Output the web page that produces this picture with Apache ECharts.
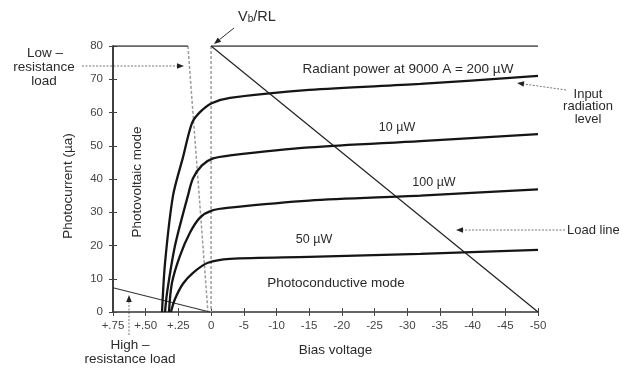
<!DOCTYPE html>
<html>
<head>
<meta charset="utf-8">
<script src="https://cdn.jsdelivr.net/npm/echarts@6/dist/echarts.min.js"></script>
<style>
  html, body { margin: 0; padding: 0; background: #fff; }
  #chart { width: 619px; height: 370px; }
</style>
</head>
<body>
<div id="chart"></div>
<script>
  // tick labels of the broken bias axis (13 equal steps)
  const biasTicks = ['+.75', '+.50', '+.25', '0', '-5', '-10', '-15', '-20', '-25', '-30', '-35', '-40', '-45', '-50']

  // curves: bias voltage (V) and photocurrent (uA)
  const volts200 = [0.375, 0.352, 0.291, 0.215, 0.146, 0.085, -0.1, -2.9, -15, -32, -50]
  const amps200 = [0, 14.8, 35, 46.5, 56.8, 60.1, 62.8, 64.4, 66.8, 68.6, 71]
  const volts10 = [0.352, 0.337, 0.276, 0.177, 0.138, 0.07, -0.3, -2.9, -15, -32, -50]
  const amps10 = [0, 5.7, 19.9, 35, 40.2, 44.1, 46.2, 47.1, 49.5, 51.4, 53.5]
  const volts100 = [0.322, 0.299, 0.238, 0.161, 0.085, -0.1, -2.9, -15, -32, -50]
  const amps100 = [0, 8.8, 16.9, 23.9, 28.4, 30.5, 31.4, 33.5, 35, 36.9]
  const volts50 = [0.307, 0.276, 0.215, 0.138, 0.024, -2.9, -15, -32, -50]
  const amps50 = [0, 3.9, 8.5, 11.8, 14.8, 16, 16.6, 17.5, 18.7]

  // straight lines
  const loadLine = [[0, 80], [-50, 0]]
  const lowResLoad = [[0.177, 80], [0.024, 0]]
  const highResLoad = [[0.75, 7.3], [0.01, 0]]
  const zeroBias = [[0, 80], [0, 0]]
  const topLeft = [[0.75, 80], [0.177, 80]]
  const topRight = [[0, 80], [-50, 80]]

  // +.75..0 takes 3 steps of .25 V, 0..-50 takes 10 steps of 5 V
  function toPos(v) {
    return v >= 0 ? (0.75 - v) / 0.25 : 3 + (-v) / 5
  }
  function pts(vs, is) {
    return vs.map((v, i) => [toPos(v), is[i]])
  }
  function seg(p) {
    return p.map(d => [toPos(d[0]), d[1]])
  }

  const font = '"Liberation Sans", Arial, sans-serif'
  const ink = '#2a2a2a'

  function curve(name, data) {
    return {
      name: name, type: 'line', data: data, smooth: 0.3,
      showSymbol: false, silent: true,
      lineStyle: { color: '#151515', width: 2.3 }
    }
  }
  function straight(data, color, width, dash) {
    return {
      type: 'line', data: seg(data), showSymbol: false, silent: true,
      lineStyle: { color: color, width: width, type: dash || 'solid' }
    }
  }

  function txt(x, y, text, size, extra) {
    return Object.assign({
      type: 'text', x: x, y: y,
      style: { text: text, font: (size || 13.5) + 'px ' + font, fill: ink, align: 'center', verticalAlign: 'middle' }
    }, extra || {})
  }
  function arrow(x1, y1, x2, y2, dashed) {
    const a = Math.atan2(y2 - y1, x2 - x1)
    const L = 7, W = 2.8
    const bx = x2 - L * Math.cos(a), by = y2 - L * Math.sin(a)
    return [
      { type: 'line', shape: { x1: x1, y1: y1, x2: bx, y2: by },
        style: { stroke: dashed ? '#777' : '#333', lineWidth: 1, lineDash: dashed ? [2, 1.5] : null } },
      { type: 'polygon',
        shape: { points: [[x2, y2], [bx + W * Math.sin(a), by - W * Math.cos(a)], [bx - W * Math.sin(a), by + W * Math.cos(a)]] },
        style: { fill: '#222' } }
    ]
  }

  const axisBase = {
    type: 'value', min: 0, max: 13, interval: 1,
    splitLine: { show: false },
    axisTick: { inside: true, length: 4, lineStyle: { color: '#444' } }
  }

  const option = {
    animation: false,
    backgroundColor: '#fff',
    grid: { left: 113, right: 81, top: 46, bottom: 58 },
    xAxis: [
      Object.assign({}, axisBase, {
        position: 'bottom',
        axisLine: { lineStyle: { color: '#333', width: 1.5 } },
        axisLabel: { formatter: v => biasTicks[Math.round(v)], color: '#444', fontFamily: font, fontSize: 11.5, margin: 8 },
        name: 'Bias voltage', nameLocation: 'middle', nameGap: 31,
        nameTextStyle: { color: ink, fontFamily: font, fontSize: 13.5, padding: [0, 0, 0, 20] }
      }),
      Object.assign({}, axisBase, {
        position: 'top',
        axisLine: { show: false },
        axisLabel: { show: false }
      })
    ],
    yAxis: [
      {
        type: 'value', min: 0, max: 80, interval: 10, position: 'left',
        splitLine: { show: false },
        axisLine: { show: true, lineStyle: { color: '#333', width: 1.5 } },
        axisTick: { show: true, inside: true, length: 4, lineStyle: { color: '#444' } },
        axisLabel: { color: '#444', fontFamily: font, fontSize: 11.5, margin: 10 },
        name: 'Photocurrent (µa)', nameLocation: 'middle', nameGap: 38,
        nameTextStyle: { color: ink, fontFamily: font, fontSize: 13.5, padding: [0, 0, 0, -14] }
      },
      {
        type: 'value', min: 0, max: 80, interval: 10, position: 'right',
        splitLine: { show: false },
        axisLine: { show: true, lineStyle: { color: '#333', width: 1.5 } },
        axisTick: { show: true, inside: true, length: 4, lineStyle: { color: '#444' } },
        axisLabel: { show: false }
      }
    ],
    series: [
      straight(zeroBias, '#9a9a9a', 1.5, [3, 2]),
      straight(lowResLoad, '#9a9a9a', 1.5, [3, 2]),
      straight(topLeft, '#333', 1.5),
      straight(topRight, '#333', 1.5),
      straight(loadLine, '#222', 1.2),
      straight(highResLoad, '#333', 1.1),
      curve('200 µW', pts(volts200, amps200)),
      curve('10 µW', pts(volts10, amps10)),
      curve('100 µW', pts(volts100, amps100)),
      curve('50 µW', pts(volts50, amps50))
    ],
    graphic: [
      // Vb/RL
      { type: 'text', x: 257, y: 17,
        style: { text: '{a|V}{b|b}{a|/RL}', align: 'center', verticalAlign: 'middle',
          rich: { a: { font: '14.5px ' + font, fill: ink }, b: { font: '10px ' + font, fill: ink, padding: [5, 0, 0, 0] } } } },
      ...arrow(234, 28, 214, 44, false),
      // low resistance load
      txt(45, 53, 'Low –'), txt(44, 67, 'resistance'), txt(44, 81, 'load'),
      ...arrow(82, 66, 184, 66, true),
      // input radiation level
      txt(588, 94, 'Input', 13), txt(588, 106, 'radiation', 13), txt(588, 119, 'level', 13),
      ...arrow(566, 90, 517, 83, true),
      // load line
      { type: 'text', x: 567, y: 230,
        style: { text: 'Load line', font: '13px ' + font, fill: ink, align: 'left', verticalAlign: 'middle' } },
      ...arrow(565, 230, 456, 230, true),
      // high resistance load
      ...arrow(129, 335, 129, 295, true),
      txt(130, 345, 'High –'), txt(130, 359, 'resistance load'),
      // curve labels
      txt(408, 69, 'Radiant power at 9000 A = 200 µW', 13.5),
      txt(397, 128, '10 µW', 12.5),
      txt(434, 183, '100 µW', 12.5),
      txt(314, 240, '50 µW', 12.5),
      txt(336, 283, 'Photoconductive mode', 13.5),
      txt(137, 182, 'Photovoltaic mode', 13.5, { rotation: Math.PI / 2 })
    ]
  }

  const chart = echarts.init(document.getElementById('chart'), null, { renderer: 'canvas' })
  chart.setOption(option)
</script>
</body>
</html>
